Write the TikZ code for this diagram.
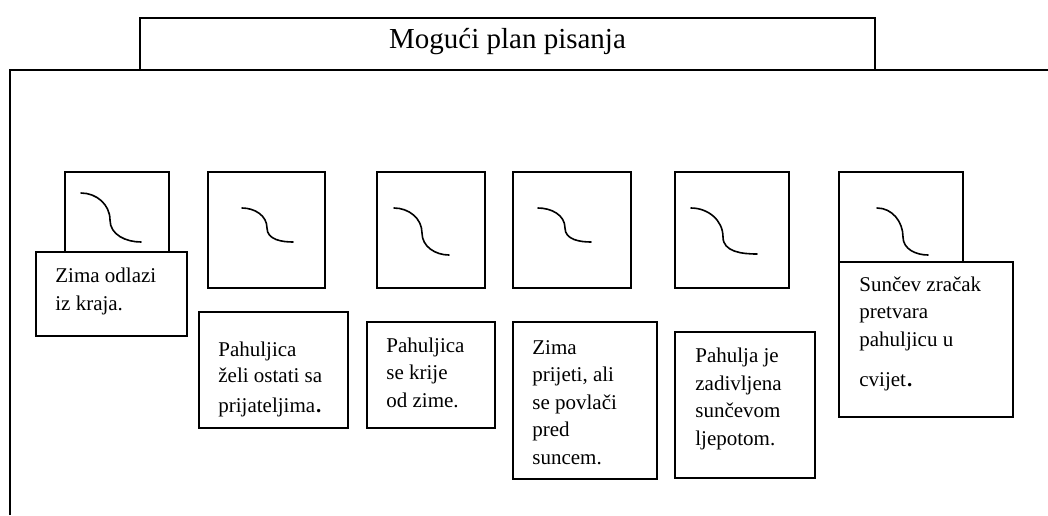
\documentclass[tikz,border=0pt]{standalone}
\usepackage{fontspec}
\setmainfont{Liberation Serif}

\begin{document}
\begin{tikzpicture}[x=1pt, y=-1pt,
  every node/.style={inner sep=0pt},
  frame/.style={line width=1.7pt},
  pane/.style={draw, line width=1.7pt, fill=white},
  txt/.style={font=\fontsize{21}{27.5}\selectfont, align=left, anchor=base west},
  wave/.style={line width=1.6pt, line cap=round}]
\useasboundingbox (0,0) rectangle (1048,515);
% heading and frame
\node[pane, minimum width=735pt, minimum height=52pt,
      font=\fontsize{29}{34}\selectfont, text height=19pt, text depth=11pt]
  (title) at (507.5,44) {Mogući plan pisanja};
\draw[frame] (10,515) |- (1048,70);
% picture boxes
\node[pane, minimum width=104pt, minimum height=116pt] (p1) at (117,230) {};
\node[pane, minimum width=117pt, minimum height=116pt] (p2) at (266.5,230) {};
\node[pane, minimum width=108pt, minimum height=116pt] (p3) at (431,230) {};
\node[pane, minimum width=118pt, minimum height=116pt] (p4) at (572,230) {};
\node[pane, minimum width=114pt, minimum height=116pt] (p5) at (732,230) {};
\node[pane, minimum width=124pt, minimum height=116pt] (p6) at (901,230) {};
\draw[wave] (81,193) to[out=0,in=90] (110,220) to[out=-90,in=180] (141,242);
\draw[wave] (242,208) to[out=0,in=90] (267,228) to[out=-90,in=180] (293,242);
\draw[wave] (394,208) to[out=0,in=90] (422,233) to[out=-90,in=180] (449,255);
\draw[wave] (538,208) to[out=0,in=90] (565,228) to[out=-90,in=180] (591,242);
\draw[wave] (691,208) to[out=0,in=90] (723,237) to[out=-90,in=180] (757,254);
\draw[wave] (877,208) to[out=0,in=90] (903,237) to[out=-90,in=180] (928,255);
% text boxes (anchored on the last line)
\node[pane, minimum width=151pt, minimum height=84pt] (t1) at (111.5,294) {};
\node[pane, minimum width=149pt, minimum height=116pt] (t2) at (273.5,370) {};
\node[pane, minimum width=128pt, minimum height=106pt] (t3) at (431,375) {};
\node[pane, minimum width=144pt, minimum height=157pt] (t4) at (585,400.5) {};
\node[pane, minimum width=140pt, minimum height=146pt] (t5) at (745,405) {};
\node[pane, minimum width=174pt, minimum height=155pt] (t6) at (926,339.5) {};
\node[txt] (l1) at ([xshift=20pt,yshift=-59pt]t1.north west)
  {Zima odlazi\\iz kraja.};
\node[txt] (l2) at ([xshift=20pt,yshift=-101pt]t2.north west)
  {Pahuljica\\[-1.5pt]želi ostati sa\\[2.5pt]prijateljima\kern1pt\textbf{.}};
\node[txt] (l3) at ([xshift=20pt,yshift=-86pt]t3.north west)
  {Pahuljica\\se krije\\od zime.};
\node[txt] (l4) at ([xshift=20pt,yshift=-143pt]t4.north west)
  {Zima\\prijeti, ali\\se povlači\\pred\\suncem.};
\node[txt] (l5) at ([xshift=21pt,yshift=-114pt]t5.north west)
  {Pahulja je\\zadivljena\\sunčevom\\ljepotom.};
\node[txt] (l6) at ([xshift=21pt,yshift=-125pt]t6.north west)
  {Sunčev zračak\\pretvara\\pahuljicu u\\[12.5pt]cvijet\kern1pt\textbf{.}};
\end{tikzpicture}
\end{document}
